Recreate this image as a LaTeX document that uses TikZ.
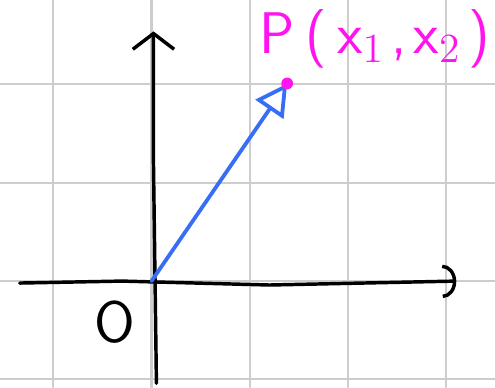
\documentclass[tikz,border=0pt]{standalone}
\usepackage{xcolor}
\usepackage{tikz}
\usetikzlibrary{calc, positioning, arrows.meta}
\definecolor{gridgray}{RGB}{205,205,205}
\definecolor{vecblue}{RGB}{55,110,245}
\definecolor{ptmagenta}{RGB}{255,20,240}

\begin{document}
\begin{tikzpicture}[>=Stealth, line cap=round, line join=round]
    \useasboundingbox (-1.541, -1.078) rectangle (3.494, 2.859);

    \draw[gridgray, line width=0.6pt] (-1.541, -1.078) grid (3.494, 2.859);

    \coordinate (O) at (0, 0);
    \coordinate (P) at (1.38, 2.01);

    \draw[line width=1pt, -{Straight Barb[length=1.6mm, width=4.2mm]}] (0.05, -1.04) -- (0.02, 1.2) -- (0.02, 2.54);
    \draw[line width=1pt, -{Arc Barb[length=1.4mm, width=3.4mm]}] (-1.34, -0.02) -- (-0.3, 0) -- (1.2, -0.04) -- (3.1, 0);

    \draw[vecblue, line width=1.1pt, -{Triangle[open, length=3.2mm, width=3.4mm]}] (O) -- (P);
    \fill[ptmagenta] (P) circle (0.06);

    \node[ptmagenta, font=\sffamily\fontsize{17}{19}\selectfont] (lblP) at (2.27, 2.46) {P\hspace{3pt}(\hspace{3pt}x$_{1}$\hspace{2pt},\hspace{2pt}x$_{2}$\hspace{2pt})};
    \node[font=\sffamily\fontsize{17}{19}\selectfont] (lblO) at (-0.37, -0.42) {O};
\end{tikzpicture}
\end{document}
